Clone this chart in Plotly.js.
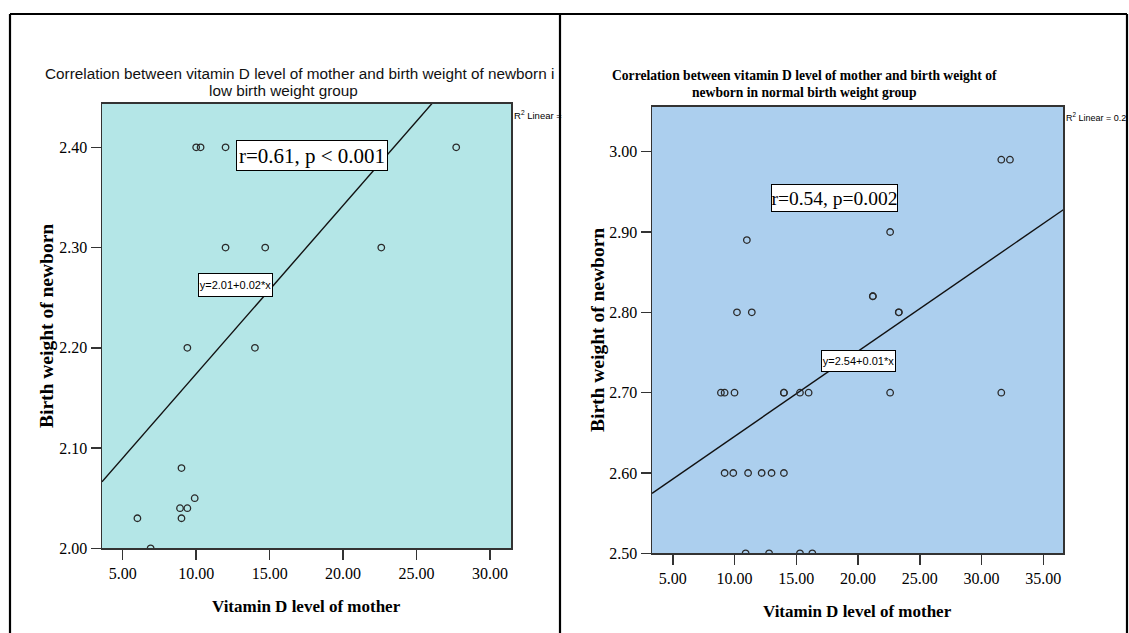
<!DOCTYPE html>
<html>
<head>
<meta charset="utf-8">
<script src="https://cdn.plot.ly/plotly-3.0.1.min.js"></script>
<style>html,body{margin:0;padding:0;background:#fff;}#chart{width:1129px;height:633px;}</style>
</head>
<body>
<div id="chart"></div>
<script>
// ---- Data ----
var lowVitD  = [6.0, 6.9, 8.9, 9.0, 9.0, 9.4, 9.9, 9.4, 14.0, 10.0, 10.3, 12.0, 12.0, 14.7, 22.6, 27.7];
var lowBW    = [2.03, 2.00, 2.04, 2.03, 2.08, 2.04, 2.05, 2.20, 2.20, 2.40, 2.40, 2.40, 2.30, 2.30, 2.30, 2.40];
var normVitD = [31.6, 32.3, 11.0, 22.6, 10.2, 11.4, 21.2, 21.2, 23.3, 23.3,
                8.9, 9.2, 10.0, 14.0, 14.0, 15.3, 16.0, 22.6, 31.6,
                9.2, 9.9, 11.1, 12.2, 13.0, 14.0,
                10.9, 12.8, 15.3, 16.3];
var normBW   = [2.99, 2.99, 2.89, 2.90, 2.80, 2.80, 2.82, 2.82, 2.80, 2.80,
                2.70, 2.70, 2.70, 2.70, 2.70, 2.70, 2.70, 2.70, 2.70,
                2.60, 2.60, 2.60, 2.60, 2.60, 2.60,
                2.50, 2.50, 2.50, 2.50];
var lowIntercept = 2.006, lowSlope = 0.0168;
var normIntercept = 2.5395, normSlope = 0.0106;
var lowXRange = [3.59, 31.43], lowYRange = [2.00, 2.4437];
var normXRange = [3.32, 36.62], normYRange = [2.50, 3.056];
var lowTitle1 = "Correlation between vitamin D level of mother and birth weight of newborn i";
var lowTitle2 = "low birth weight group";
var normTitle1 = "Correlation between vitamin D level of mother and birth weight of";
var normTitle2 = "newborn in normal birth weight group";
var xTitle = "Vitamin D level of mother";
var yTitle = "Birth weight of newborn";
var lowStat = "r=0.61, p < 0.001", normStat = "r=0.54, p=0.002";
var lowEq = "y=2.01+0.02*x", normEq = "y=2.54+0.01*x";
var lowR2 = "R<sup>2</sup> Linear =", normR2 = "R<sup>2</sup> Linear = 0.2";

// ---- helpers ----
var W = 1129, H = 633;
function px(x){ return x / W; }
function py(y){ return 1 - y / H; }
function fitLine(r, a, b){ return {x: [r[0], r[1]], y: [a + b*r[0], a + b*r[1]]}; }

var serif = "Liberation Serif, Times New Roman, serif";
var sans = "Liberation Sans, Arial, sans-serif";

var lf = fitLine(lowXRange, lowIntercept, lowSlope);
var nf = fitLine(normXRange, normIntercept, normSlope);

var markerStyle = {symbol: 'circle-open', size: 6.5, color: '#2a2a2a', line: {width: 1.3, color: '#2a2a2a'}};

var traces = [
  {x: lf.x, y: lf.y, mode: 'lines', line: {color: '#111', width: 1.4}, xaxis: 'x', yaxis: 'y', hoverinfo: 'skip'},
  {x: lowVitD, y: lowBW, mode: 'markers', marker: markerStyle, xaxis: 'x', yaxis: 'y'},
  {x: nf.x, y: nf.y, mode: 'lines', line: {color: '#111', width: 1.4}, xaxis: 'x2', yaxis: 'y2', hoverinfo: 'skip'},
  {x: normVitD, y: normBW, mode: 'markers', marker: markerStyle, xaxis: 'x2', yaxis: 'y2'}
];

function axisBase(){
  return {
    showgrid: false, zeroline: false, showline: true, mirror: true,
    linecolor: '#333', linewidth: 1.5,
    ticks: 'outside', ticklen: 10, tickwidth: 1.5, tickcolor: '#333',
    tickfont: {family: serif, size: 16, color: '#000'},
    tickformat: '.2f', fixedrange: true
  };
}
var xa = Object.assign(axisBase(), {domain: [px(102), px(511)], range: lowXRange, tick0: 5, dtick: 5, anchor: 'y'});
var ya = Object.assign(axisBase(), {domain: [py(548.3), py(103.5)], range: lowYRange, tick0: 2, dtick: 0.1, anchor: 'x'});
var xa2 = Object.assign(axisBase(), {domain: [px(652), px(1063.3)], range: normXRange, tick0: 5, dtick: 5, anchor: 'y2'});
var ya2 = Object.assign(axisBase(), {domain: [py(553.3), py(106.7)], range: normYRange, tick0: 2.5, dtick: 0.1, anchor: 'x2'});

function ann(text, x, y, opts){
  return Object.assign({text: text, xref: 'paper', yref: 'paper', x: px(x), y: py(y),
    showarrow: false, xanchor: 'center', yanchor: 'middle'}, opts || {});
}

var annotations = [
  ann(lowTitle1, 43, 73, {xanchor: 'left', font: {family: sans, size: 15.3, color: '#111'}}),
  ann(lowTitle2, 283, 90, {font: {family: sans, size: 15.3, color: '#111'}}),
  ann(normTitle1, 804, 75, {font: {family: serif, size: 13.6, color: '#000', weight: 'bold'}}),
  ann(normTitle2, 804, 92, {font: {family: serif, size: 13.6, color: '#000', weight: 'bold'}}),
  ann(lowStat, 312, 155.5, {font: {family: serif, size: 21, color: '#000'}, bgcolor: '#fff', bordercolor: '#000', borderwidth: 1, borderpad: 0, width: 150, height: 29}),
  ann(normStat, 834.5, 198, {font: {family: serif, size: 19.5, color: '#000'}, bgcolor: '#fff', bordercolor: '#000', borderwidth: 1, borderpad: 0, width: 125, height: 26}),
  ann(lowEq, 235.5, 285, {font: {family: sans, size: 11, color: '#000'}, bgcolor: '#fff', bordercolor: '#000', borderwidth: 1, borderpad: 0, width: 73, height: 22}),
  ann(normEq, 858.5, 361, {font: {family: sans, size: 11, color: '#000'}, bgcolor: '#fff', bordercolor: '#000', borderwidth: 1, borderpad: 0, width: 73, height: 20}),
  ann(lowR2, 512, 115, {xanchor: 'left', font: {family: sans, size: 9.5, color: '#000'}}),
  ann(normR2, 1064, 117, {xanchor: 'left', font: {family: sans, size: 9, color: '#000'}}),
  ann(yTitle, 47, 326, {textangle: -90, font: {family: serif, size: 19.5, color: '#000', weight: 'bold'}}),
  ann(yTitle, 597, 330, {textangle: -90, font: {family: serif, size: 19.5, color: '#000', weight: 'bold'}}),
  ann(xTitle, 306, 606, {font: {family: serif, size: 17, color: '#000', weight: 'bold'}}),
  ann(xTitle, 857, 611, {font: {family: serif, size: 17, color: '#000', weight: 'bold'}})
];

function line(x0, y0, x1, y1){
  return {type: 'line', xref: 'paper', yref: 'paper', x0: px(x0), y0: py(y0), x1: px(x1), y1: py(y1),
    line: {color: '#000', width: 2.2}, layer: 'above'};
}
var shapes = [
  {type: 'rect', xref: 'x domain', yref: 'y domain', x0: 0, x1: 1, y0: 0, y1: 1, fillcolor: '#b4e6e7', line: {width: 0}, layer: 'below'},
  {type: 'rect', xref: 'x2 domain', yref: 'y2 domain', x0: 0, x1: 1, y0: 0, y1: 1, fillcolor: '#accfee', line: {width: 0}, layer: 'below'},
  line(10, 14, 1127, 14),
  line(10, 14, 10, 633),
  line(1127, 14, 1127, 633),
  line(560, 14, 560, 633)
];

var layout = {
  width: W, height: H, margin: {l: 0, r: 0, t: 0, b: 0},
  paper_bgcolor: '#fff',
  showlegend: false,
  xaxis: xa, yaxis: ya, xaxis2: xa2, yaxis2: ya2,
  annotations: annotations, shapes: shapes,
  hovermode: false
};

Plotly.newPlot('chart', traces, layout, {displayModeBar: false, staticPlot: true});
</script>
</body>
</html>
